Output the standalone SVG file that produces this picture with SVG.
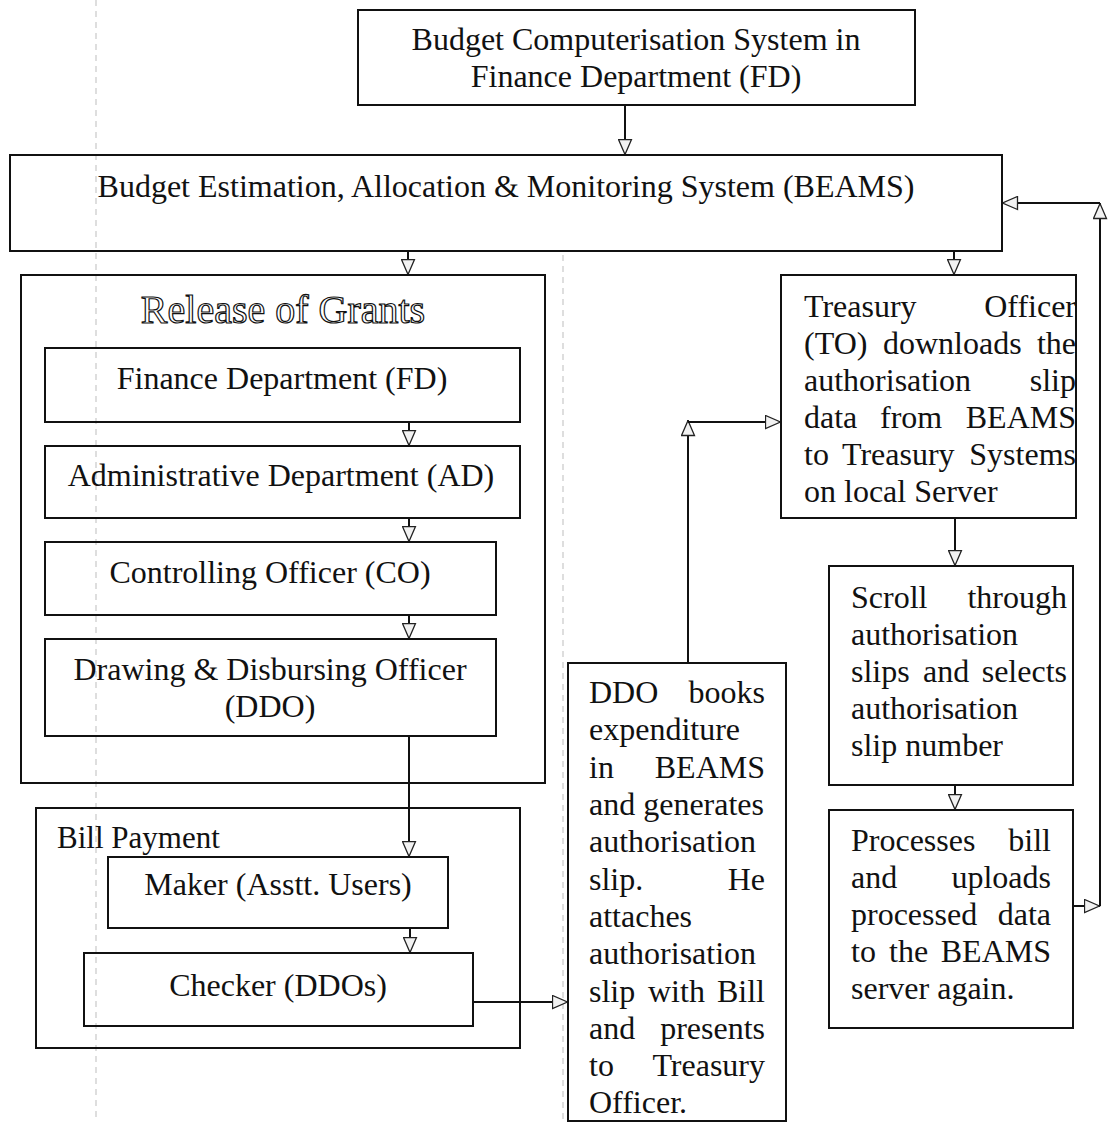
<svg xmlns="http://www.w3.org/2000/svg" width="1108" height="1122" viewBox="0 0 1108 1122">
<style>
.box{fill:none;stroke:#111;stroke-width:2}
.t{font-family:"Liberation Serif","Times New Roman",serif;font-size:32px;fill:#111}
.c{text-anchor:middle}
.e{text-anchor:end}
.eng{font-family:"Liberation Serif","Times New Roman",serif;font-size:40px;fill:#fff;stroke:#111;stroke-width:1.2;text-anchor:middle}
.ln{fill:none;stroke:#111;stroke-width:2}
.scan{fill:none;stroke:#bdbdbd;stroke-width:1;stroke-dasharray:6 5}
</style>
<defs>
<marker id="ah" markerUnits="userSpaceOnUse" markerWidth="17" markerHeight="15" viewBox="0 0 17 15" refX="16.5" refY="7.5" orient="auto">
<path d="M1,1 L16,7.5 L1,14 Z" fill="#f2f2f2" stroke="#222" stroke-width="1.3"/>
</marker>
</defs>
<rect width="1108" height="1122" fill="#fff"/>
<g id="scan-marks">
<line class="scan" x1="96" y1="0" x2="96" y2="1122"/>
<line class="scan" x1="563" y1="255" x2="563" y2="1122"/>
</g>
<g id="connectors">
<line class="ln" x1="625" y1="105" x2="625" y2="155" marker-end="url(#ah)"/>
<line class="ln" x1="408" y1="251" x2="408" y2="275" marker-end="url(#ah)"/>
<line class="ln" x1="954" y1="251" x2="954" y2="275" marker-end="url(#ah)"/>
<line class="ln" x1="409" y1="422" x2="409" y2="446" marker-end="url(#ah)"/>
<line class="ln" x1="409" y1="518" x2="409" y2="542" marker-end="url(#ah)"/>
<line class="ln" x1="409" y1="615" x2="409" y2="639" marker-end="url(#ah)"/>
<line class="ln" x1="409" y1="736" x2="409" y2="857" marker-end="url(#ah)"/>
<line class="ln" x1="410" y1="928" x2="410" y2="953" marker-end="url(#ah)"/>
<line class="ln" x1="473" y1="1002" x2="568" y2="1002" marker-end="url(#ah)"/>
<line class="ln" x1="688" y1="663" x2="688" y2="420" marker-end="url(#ah)"/>
<line class="ln" x1="688" y1="422" x2="781" y2="422" marker-end="url(#ah)"/>
<line class="ln" x1="955" y1="518" x2="955" y2="566" marker-end="url(#ah)"/>
<line class="ln" x1="955" y1="785" x2="955" y2="810" marker-end="url(#ah)"/>
<line class="ln" x1="1073" y1="906" x2="1100" y2="906" marker-end="url(#ah)"/>
<line class="ln" x1="1100" y1="906" x2="1100" y2="203" marker-end="url(#ah)"/>
<line class="ln" x1="1100" y1="203" x2="1002" y2="203" marker-end="url(#ah)"/>
</g>
<g id="budget-computerisation">
<rect class="box" x="358" y="10" width="557" height="95"/>
<text class="t c" x="636" y="50">Budget Computerisation System in</text>
<text class="t c" x="636" y="87">Finance Department (FD)</text>
</g>
<g id="beams">
<rect class="box" x="10" y="155" width="992" height="96"/>
<text class="t c" x="506" y="197">Budget Estimation, Allocation &amp; Monitoring System (BEAMS)</text>
</g>
<g id="release-of-grants">
<rect class="box" x="21" y="275" width="524" height="508"/>
<text class="eng" x="283" y="323">Release of Grants</text>
</g>
<g id="finance-department">
<rect class="box" x="45" y="348" width="475" height="74"/>
<text class="t c" x="282" y="389">Finance Department (FD)</text>
</g>
<g id="administrative-department">
<rect class="box" x="45" y="446" width="475" height="72"/>
<text class="t c" x="281" y="486">Administrative Department (AD)</text>
</g>
<g id="controlling-officer">
<rect class="box" x="45" y="542" width="451" height="73"/>
<text class="t c" x="270" y="583">Controlling Officer (CO)</text>
</g>
<g id="ddo">
<rect class="box" x="45" y="639" width="451" height="97"/>
<text class="t c" x="270" y="680">Drawing &amp; Disbursing Officer</text>
<text class="t c" x="270" y="717">(DDO)</text>
</g>
<g id="bill-payment">
<rect class="box" x="36" y="808" width="484" height="240"/>
<text class="t" x="57" y="848" style="font-size:31px">Bill Payment</text>
</g>
<g id="maker">
<rect class="box" x="108" y="857" width="340" height="71"/>
<text class="t c" x="278" y="895">Maker (Asstt. Users)</text>
</g>
<g id="checker">
<rect class="box" x="84" y="953" width="389" height="73"/>
<text class="t c" x="278" y="996">Checker (DDOs)</text>
</g>
<g id="ddo-books">
<rect class="box" x="568" y="663" width="218" height="458"/>
<text class="t" x="589" y="703">DDO</text><text class="t e" x="765" y="703">books</text>
<text class="t" x="589" y="740">expenditure</text>
<text class="t" x="589" y="778">in</text><text class="t e" x="765" y="778">BEAMS</text>
<text class="t" x="589" y="815">and generates</text>
<text class="t" x="589" y="852">authorisation</text>
<text class="t" x="589" y="890">slip.</text><text class="t e" x="765" y="890">He</text>
<text class="t" x="589" y="927">attaches</text>
<text class="t" x="589" y="964">authorisation</text>
<text class="t" x="589" y="1002">slip</text><text class="t" x="648" y="1002">with</text><text class="t e" x="765" y="1002">Bill</text>
<text class="t" x="589" y="1039">and</text><text class="t e" x="765" y="1039">presents</text>
<text class="t" x="589" y="1076">to</text><text class="t e" x="765" y="1076">Treasury</text>
<text class="t" x="589" y="1113">Officer.</text>
</g>
<g id="treasury-officer">
<rect class="box" x="781" y="275" width="295" height="243"/>
<text class="t" x="804" y="317">Treasury</text><text class="t e" x="1076" y="317">Officer</text>
<text class="t" x="804" y="354">(TO)</text><text class="t" x="883" y="354">downloads</text><text class="t e" x="1076" y="354">the</text>
<text class="t" x="804" y="391">authorisation</text><text class="t e" x="1076" y="391">slip</text>
<text class="t" x="804" y="428">data</text><text class="t" x="880" y="428">from</text><text class="t e" x="1076" y="428">BEAMS</text>
<text class="t" x="804" y="465">to</text><text class="t" x="842" y="465">Treasury</text><text class="t e" x="1076" y="465">Systems</text>
<text class="t" x="804" y="502">on local Server</text>
</g>
<g id="scroll-slips">
<rect class="box" x="829" y="566" width="244" height="219"/>
<text class="t" x="851" y="608">Scroll</text><text class="t e" x="1067" y="608">through</text>
<text class="t" x="851" y="645">authorisation</text>
<text class="t" x="851" y="682">slips</text><text class="t" x="923" y="682">and</text><text class="t e" x="1067" y="682">selects</text>
<text class="t" x="851" y="719">authorisation</text>
<text class="t" x="851" y="756">slip number</text>
</g>
<g id="processes-bill">
<rect class="box" x="829" y="810" width="244" height="218"/>
<text class="t" x="851" y="851">Processes</text><text class="t e" x="1051" y="851">bill</text>
<text class="t" x="851" y="888">and</text><text class="t e" x="1051" y="888">uploads</text>
<text class="t" x="851" y="925">processed</text><text class="t e" x="1051" y="925">data</text>
<text class="t" x="851" y="962">to</text><text class="t" x="889" y="962">the</text><text class="t e" x="1051" y="962">BEAMS</text>
<text class="t" x="851" y="999">server again.</text>
</g>
</svg>
